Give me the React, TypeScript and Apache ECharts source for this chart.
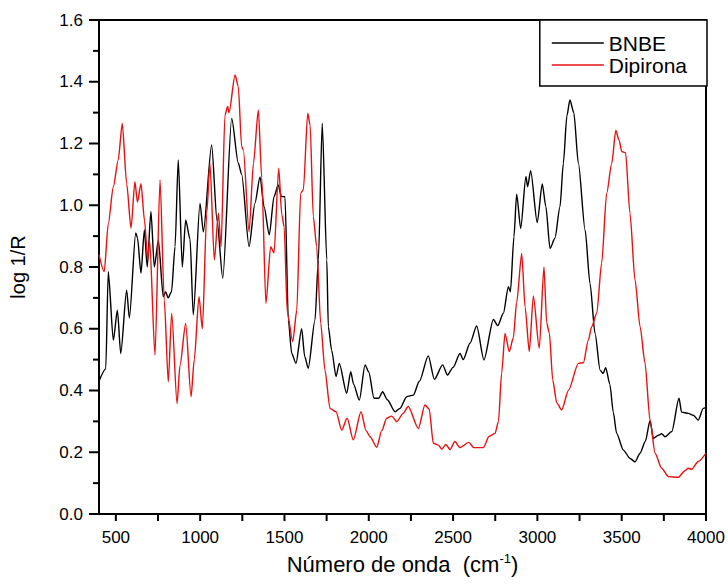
import React, { useEffect, useRef } from "react";
import * as echarts from "echarts";

const bnbeX = [400, 440, 455, 485, 509, 529, 564, 580, 618, 628, 649, 669, 686, 708, 728, 752, 781, 795, 810, 830, 851, 870, 894, 914, 940, 959, 999, 1019, 1068, 1100, 1134, 1187, 1226, 1246, 1290, 1325, 1355, 1379, 1410, 1438, 1463, 1482, 1503, 1523, 1543, 1568, 1602, 1620, 1641, 1681, 1701, 1724, 1751, 1760, 1780, 1806, 1825, 1869, 1893, 1910, 1944, 1978, 2000, 2031, 2059, 2082, 2110, 2156, 2185, 2225, 2264, 2300, 2353, 2389, 2438, 2467, 2500, 2541, 2560, 2600, 2640, 2683, 2739, 2765, 2798, 2828, 2840, 2861, 2877, 2901, 2932, 2942, 2960, 2999, 3029, 3050, 3075, 3104, 3134, 3154, 3175, 3193, 3216, 3243, 3283, 3312, 3342, 3372, 3390, 3405, 3430, 3450, 3470, 3510, 3550, 3579, 3609, 3640, 3668, 3688, 3718, 3737, 3757, 3797, 3840, 3855, 3895, 3925, 3954, 3984, 4000];
const bnbeY = [0.43, 0.47, 0.785, 0.563, 0.66, 0.52, 0.725, 0.635, 0.91, 0.895, 0.78, 0.92, 0.80, 0.98, 0.80, 0.887, 0.704, 0.72, 0.70, 0.72, 0.866, 1.147, 0.80, 0.952, 0.89, 0.645, 1.006, 0.914, 1.195, 0.95, 0.764, 1.281, 1.137, 1.10, 0.866, 1.007, 1.092, 0.995, 0.904, 1.028, 1.066, 1.028, 1.028, 0.628, 0.52, 0.488, 0.60, 0.51, 0.472, 0.628, 0.823, 1.265, 0.823, 0.607, 0.53, 0.445, 0.488, 0.391, 0.461, 0.42, 0.369, 0.483, 0.46, 0.375, 0.375, 0.396, 0.37, 0.331, 0.342, 0.38, 0.385, 0.43, 0.512, 0.436, 0.483, 0.45, 0.475, 0.52, 0.50, 0.553, 0.609, 0.499, 0.63, 0.61, 0.65, 0.736, 0.72, 0.898, 1.036, 0.925, 1.093, 1.06, 1.112, 0.944, 1.069, 0.996, 0.86, 0.893, 0.995, 1.136, 1.29, 1.341, 1.30, 1.136, 0.92, 0.747, 0.585, 0.466, 0.455, 0.474, 0.42, 0.33, 0.261, 0.207, 0.18, 0.169, 0.197, 0.235, 0.302, 0.245, 0.255, 0.26, 0.25, 0.267, 0.375, 0.33, 0.326, 0.32, 0.304, 0.342, 0.345];

const dipX = [400, 431, 455, 485, 514, 538, 564, 590, 613, 628, 649, 670, 689, 700, 732, 762, 787, 811, 831, 863, 880, 914, 946, 965, 993, 1013, 1039, 1058, 1084, 1108, 1124, 1147, 1163, 1171, 1207, 1226, 1246, 1256, 1290, 1316, 1345, 1365, 1390, 1418, 1438, 1466, 1484, 1498, 1517, 1549, 1573, 1596, 1612, 1638, 1652, 1671, 1691, 1715, 1740, 1770, 1806, 1839, 1872, 1908, 1954, 1984, 2008, 2047, 2077, 2106, 2136, 2166, 2204, 2234, 2294, 2333, 2358, 2383, 2413, 2433, 2457, 2482, 2511, 2541, 2593, 2623, 2679, 2714, 2749, 2769, 2788, 2808, 2833, 2857, 2877, 2907, 2927, 2952, 2976, 3011, 3039, 3055, 3071, 3091, 3115, 3144, 3184, 3243, 3273, 3302, 3322, 3352, 3381, 3411, 3441, 3465, 3485, 3500, 3523, 3549, 3579, 3609, 3638, 3668, 3698, 3737, 3777, 3836, 3875, 3895, 3915, 3954, 4000];
const dipY = [0.84, 0.785, 0.94, 1.06, 1.147, 1.265, 1.07, 0.926, 1.076, 1.01, 1.07, 0.95, 0.823, 0.888, 0.515, 1.082, 0.693, 0.428, 0.65, 0.358, 0.48, 0.617, 0.38, 0.50, 0.704, 0.60, 0.974, 1.136, 0.823, 0.974, 0.866, 1.292, 1.32, 1.30, 1.422, 1.385, 1.19, 1.18, 0.914, 1.136, 1.309, 1.09, 0.682, 0.866, 0.845, 1.12, 0.97, 0.93, 0.65, 0.558, 0.66, 1.039, 1.05, 1.298, 1.26, 0.963, 0.866, 0.617, 0.466, 0.342, 0.331, 0.272, 0.31, 0.24, 0.331, 0.27, 0.25, 0.216, 0.27, 0.31, 0.317, 0.299, 0.326, 0.348, 0.277, 0.353, 0.34, 0.229, 0.223, 0.21, 0.225, 0.209, 0.235, 0.215, 0.232, 0.215, 0.215, 0.252, 0.261, 0.30, 0.456, 0.585, 0.526, 0.57, 0.685, 0.844, 0.67, 0.526, 0.706, 0.537, 0.80, 0.62, 0.586, 0.434, 0.36, 0.337, 0.40, 0.488, 0.49, 0.563, 0.607, 0.65, 0.812, 1.039, 1.136, 1.242, 1.21, 1.174, 1.17, 0.974, 0.758, 0.607, 0.49, 0.304, 0.197, 0.148, 0.121, 0.119, 0.14, 0.148, 0.145, 0.17, 0.197];

const xLabelValues = [500, 1000, 1500, 2000, 2500, 3000, 3500, 4000];
const xTickValues = [500, 750, 1000, 1250, 1500, 1750, 2000, 2250, 2500, 2750, 3000, 3250, 3500, 3750, 4000];
const yTickValues = [0, 0.1, 0.2, 0.3, 0.4, 0.5, 0.6, 0.7, 0.8, 0.9, 1.0, 1.1, 1.2, 1.3, 1.4, 1.5, 1.6];
const seriesNames = ["BNBE", "Dipirona"];

const FONT = "'Liberation Sans', Arial, sans-serif";
const X_MIN = 400;
const X_MAX = 4000;
const Y_MIN = 0;
const Y_MAX = 1.6;

export default function App() {
  const ref = useRef<HTMLDivElement>(null);
  useEffect(() => {
    if (!ref.current) return;
    const chart = echarts.init(ref.current, undefined, { renderer: "svg" });
    const bnbe = bnbeX.map((x, i) => [x, bnbeY[i]]);
    const dip = dipX.map((x, i) => [x, dipY[i]]);
    const frameLine = { show: true, onZero: false, lineStyle: { color: "#000", width: 2 } };
    chart.setOption({
      animation: false,
      backgroundColor: "#fff",
      textStyle: { fontFamily: FONT },
      grid: { left: 99, right: 22, top: 20, bottom: 72 },
      legend: {
        orient: "vertical",
        right: 21,
        top: 20,
        backgroundColor: "#fff",
        borderColor: "#000",
        borderWidth: 1.5,
        borderRadius: 0,
        padding: [12, 20, 10, 12],
        itemGap: 0,
        itemWidth: 52,
        itemHeight: 1.5,
        icon: "rect",
        textStyle: { fontSize: 21, lineHeight: 22, color: "#000", fontFamily: FONT },
        data: seriesNames,
      },
      xAxis: [
        {
          type: "value",
          min: X_MIN,
          max: X_MAX,
          position: "bottom",
          splitLine: { show: false },
          axisLine: frameLine,
          axisTick: { show: false },
          axisLabel: {
            color: "#000",
            fontSize: 17,
            margin: 15,
            customValues: xLabelValues,
            formatter: (v: number) => String(v),
            fontFamily: FONT,
          },
          name: "Número de onda  (cm{sup|-1})",
          nameLocation: "middle",
          nameGap: 38,
          nameTextStyle: {
            fontSize: 22,
            color: "#000",
            fontFamily: FONT,
            rich: { sup: { fontSize: 13, verticalAlign: "top", padding: [0, 0, 12, 0], fontFamily: FONT, color: "#000" } },
          },
        },
        {
          type: "value",
          min: X_MIN,
          max: X_MAX,
          position: "top",
          splitLine: { show: false },
          axisLine: frameLine,
          axisTick: { show: false },
          axisLabel: { show: false },
        },
      ],
      yAxis: [
        {
          type: "value",
          min: Y_MIN,
          max: Y_MAX,
          interval: 0.2,
          position: "left",
          splitLine: { show: false },
          axisLine: frameLine,
          axisTick: { show: false },
          axisLabel: { color: "#000", fontSize: 17, margin: 16, formatter: (v: number) => v.toFixed(1), fontFamily: FONT },
          name: "log 1/R",
          nameLocation: "middle",
          nameGap: 71,
          nameTextStyle: { fontSize: 20, color: "#000", fontFamily: FONT },
        },
        {
          type: "value",
          min: Y_MIN,
          max: Y_MAX,
          interval: 0.2,
          position: "right",
          splitLine: { show: false },
          axisLine: frameLine,
          axisTick: { show: false },
          axisLabel: { show: false },
        },
      ],
      series: [
        {
          name: seriesNames[0],
          type: "line",
          data: bnbe,
          showSymbol: false,
          smooth: 0.25,
          smoothMonotone: "x",
          lineStyle: { color: "#000", width: 1.4 },
          itemStyle: { color: "#000" },
        },
        {
          name: seriesNames[1],
          type: "line",
          data: dip,
          showSymbol: false,
          smooth: 0.25,
          smoothMonotone: "x",
          lineStyle: { color: "#e81010", width: 1.4 },
          itemStyle: { color: "#e81010" },
        },
        {
          type: "custom",
          name: "xTicks",
          silent: true,
          clip: false,
          z: 10,
          data: xTickValues.map((v) => [v]),
          renderItem: (params: any, api: any) => {
            const p = api.coord([api.value(0), Y_MIN]);
            return {
              type: "line",
              shape: { x1: p[0], y1: p[1], x2: p[0], y2: p[1] + 7 },
              style: { stroke: "#000", lineWidth: 2 },
            };
          },
        },
        {
          type: "custom",
          name: "yTicks",
          silent: true,
          clip: false,
          z: 10,
          data: yTickValues.map((v) => [X_MIN, v]),
          renderItem: (params: any, api: any) => {
            const v = api.value(1);
            const p = api.coord([X_MIN, v]);
            const major = Math.round(v * 10) % 2 === 0;
            const len = major ? 10 : 6;
            return {
              type: "line",
              shape: { x1: p[0] - len, y1: p[1], x2: p[0], y2: p[1] },
              style: { stroke: "#000", lineWidth: 2 },
            };
          },
        },
      ],
    });
    return () => chart.dispose();
  }, []);
  return <div ref={ref} style={{ width: 728, height: 586, position: "absolute", left: 0, top: 0 }} />;
}
